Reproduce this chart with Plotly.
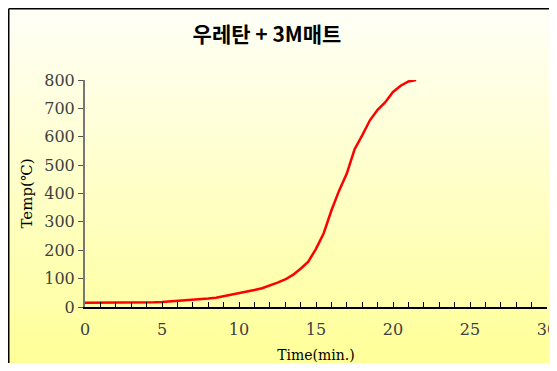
import plotly.graph_objects as go

time_min = [0, 0.5, 1, 1.5, 2, 2.5, 3, 3.5, 4, 4.5, 5, 5.5, 6, 6.5, 7, 7.5, 8, 8.5, 9, 9.5,
            10, 10.5, 11, 11.5, 12, 12.5, 13, 13.5, 14, 14.5, 15, 15.5, 16, 16.5, 17, 17.5,
            18, 18.5, 19, 19.5, 20, 20.5, 21, 21.5]
temp_c = [15, 15, 15, 15, 15, 15, 15, 16, 17, 17, 18, 20, 20, 22, 24, 27, 30, 33, 38, 43,
          48, 54, 60, 66, 75, 86, 97, 113, 135, 160, 205, 260, 340, 410, 470, 555,
          605, 658, 695, 722, 758, 780, 795, 800]

x_ticks = [0, 5, 10, 15, 20, 25, 30]
y_ticks = [0, 100, 200, 300, 400, 500, 600, 700, 800]

OFF = 8  # page offset of the figure (body margin)
W, H = 557 - 2 * OFF, 371 - 2 * OFF
# plot area in page pixels: x 85..547, y 80..307
L, T = 85 - OFF, 80 - OFF
R = W - (547 - OFF)
B = H - (307 - OFF)
pw, ph = W - L - R, H - T - B

def px_x(px):
    return (px - OFF - L) / pw

def px_y(py):
    return (H - B - (py - OFF)) / ph

fig = go.Figure()
fig.add_trace(go.Scatter(x=time_min, y=temp_c, mode="lines",
                         line=dict(color="#FF0000", width=2.5), showlegend=False))

shapes = []
n = 90
top_py, bot_py = 7, 371
for i in range(n):
    y0 = top_py + (bot_py - top_py) * i / n
    y1 = top_py + (bot_py - top_py) * (i + 1) / n + 0.5
    f = (i + 0.5) / n
    b = round(248 - (248 - 150) * f)
    shapes.append(dict(type="rect", xref="paper", yref="paper", layer="below",
                       x0=px_x(5), x1=px_x(600), y0=px_y(y1), y1=px_y(y0),
                       line=dict(width=0), fillcolor=f"rgb(255,255,{b})"))
# chart frame: left and top edges
shapes.append(dict(type="line", xref="paper", yref="paper", layer="above",
                   x0=px_x(8.75), x1=px_x(8.75), y0=px_y(420), y1=px_y(8.75),
                   line=dict(color="#000000", width=1.5)))
shapes.append(dict(type="line", xref="paper", yref="paper", layer="above",
                   x0=px_x(8.75), x1=px_x(620), y0=px_y(8.75), y1=px_y(8.75),
                   line=dict(color="#000000", width=1.5)))

serif = "DejaVu Serif, Liberation Serif, serif"
fig.update_layout(
    width=W, height=H,
    margin=dict(l=L, r=R, t=T, b=B, autoexpand=False),
    paper_bgcolor="white", plot_bgcolor="rgba(0,0,0,0)",
    shapes=shapes,
    title=dict(text="<b>우레탄 + 3M매트</b>", x=px_x(267), xanchor="center",
               xref="paper", y=1 - (35 - OFF) / H, yanchor="middle",
               automargin=False,
               font=dict(family="Noto Sans CJK KR", size=21, color="#000000")),
    xaxis=dict(range=[0, 30], tickvals=x_ticks, ticktext=[str(v) for v in x_ticks],
               automargin=False, ticklabeloverflow="allow",
               ticks="inside", ticklen=5, tickcolor="#000000",
               ticklabelstandoff=7,
               minor=dict(ticks="inside", dtick=1, ticklen=5, tickcolor="#000000"),
               showline=True, linecolor="#000000", linewidth=1.5,
               showgrid=False, zeroline=False,
               tickfont=dict(family=serif, size=16, color="#404040"),
               title=dict(text="Time(min.)", standoff=13,
                          font=dict(family=serif, size=14, color="#000000"))),
    yaxis=dict(range=[0, 800], tickvals=y_ticks, ticktext=[str(v) for v in y_ticks],
               automargin=False,
               ticks="outside", ticklen=5, tickcolor="#555555",
               showline=True, linecolor="#777777", linewidth=2,
               showgrid=False, zeroline=False,
               tickfont=dict(family=serif, size=16, color="#404040"),
               title=dict(text="Temp(℃)", standoff=8,
                          font=dict(family=serif, size=15, color="#000000"))),
)

fig.write_html("out.html")
